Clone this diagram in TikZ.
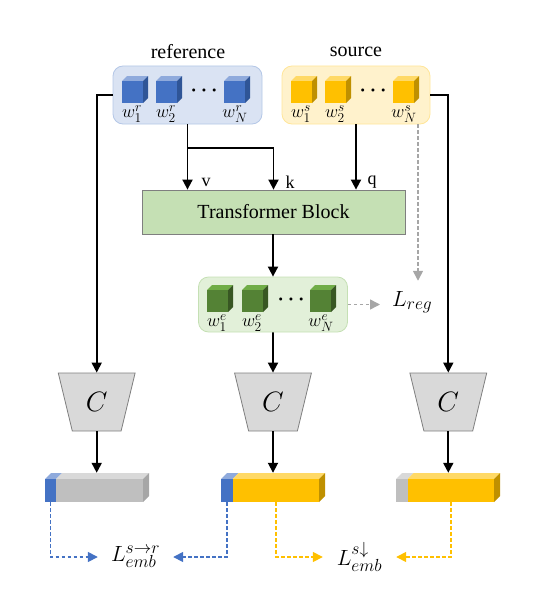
\RequirePackage{fix-cm}
\documentclass[tikz,border=0pt]{standalone}
\usepackage{fontspec}
\setmainfont{Liberation Serif}
\usetikzlibrary{arrows.meta,shapes.geometric,calc}
\DeclareMathSizes{22}{22}{17.5}{13}
\DeclareMathSizes{18}{18}{13.5}{10}
\definecolor{refbg}{HTML}{DAE3F3}
\definecolor{refbd}{HTML}{B4C7E7}
\definecolor{srcbg}{HTML}{FFF2CC}
\definecolor{srcbd}{HTML}{FFE699}
\definecolor{grnbg}{HTML}{E2F0D9}
\definecolor{grnbd}{HTML}{C5E0B4}
\definecolor{tbfill}{HTML}{C5E0B4}
\definecolor{tbbd}{HTML}{7F7F7F}
\definecolor{cfill}{HTML}{D9D9D9}
\definecolor{cbd}{HTML}{7F7F7F}
\definecolor{bluF}{HTML}{4472C4}
\definecolor{bluT}{HTML}{8FAADC}
\definecolor{bluS}{HTML}{2F5597}
\definecolor{yelF}{HTML}{FFC000}
\definecolor{yelT}{HTML}{FFD966}
\definecolor{yelS}{HTML}{BF9000}
\definecolor{grnF}{HTML}{548235}
\definecolor{grnT}{HTML}{70AD47}
\definecolor{grnS}{HTML}{385723}
\definecolor{gryF}{HTML}{BFBFBF}
\definecolor{gryT}{HTML}{D9D9D9}
\definecolor{gryS}{HTML}{A6A6A6}
\definecolor{dgray}{HTML}{A6A6A6}
% cube: #1 x, #2 y (top-left of front face), #3 front, #4 top, #5 side
\newcommand{\drawcube}[5]{%
  \fill[#4] (#1,#2) -- ++(5,-5) -- ++(21,0) -- ++(-5,5) -- cycle;
  \fill[#5] (#1+21,#2) -- ++(5,-5) -- ++(0,22) -- ++(-5,5) -- cycle;
  \fill[#3] (#1,#2) rectangle ++(21,22);
}
% bar: #1 x0, #2 xsplit, #3 x1, #4 front left, #5 top left, #6 front right, #7 top right, #8 side
\newcommand{\drawbar}[8]{%
  \fill[#5] (#1,479) -- (#1+6,473) -- (#2+6,473) -- (#2,479) -- cycle;
  \fill[#7] (#2,479) -- (#2+6,473) -- (#3+6,473) -- (#3,479) -- cycle;
  \fill[#8] (#3,479) -- (#3+6,473) -- (#3+6,496) -- (#3,502) -- cycle;
  \fill[#4] (#1,479) rectangle (#2,502);
  \fill[#6] (#2,479) rectangle (#3,502);
}
\begin{document}
\begin{tikzpicture}[x=1pt,y=-1pt,
  arr/.style={line width=1.8pt,-{Triangle[length=10pt,width=10pt]}},
  dasharr/.style={line width=1.5pt,dash pattern=on 3.5pt off 2.5pt,-{Triangle[length=10pt,width=10pt]}},
  panel/.style={rounded corners=10pt,line width=0.8pt,inner sep=0pt,minimum height=58pt},
  ttl/.style={font=\fontsize{20}{24}\selectfont,inner sep=0pt},
  wlab/.style={font=\fontsize{18}{20}\selectfont,inner sep=0pt},
  dotlab/.style={font=\fontsize{20}{22}\selectfont\boldmath,inner sep=0pt},
  kvq/.style={font=\fontsize{18}{20}\selectfont,inner sep=0pt},
  cls/.style={trapezium,trapezium stretches=true,shape border rotate=180,
    trapezium left angle=72,trapezium right angle=72,minimum width=77pt,
    minimum height=58pt,fill=cfill,draw=cbd,line width=0.8pt,inner sep=0pt,
    font=\fontsize{28}{30}\selectfont},
  losslab/.style={font=\fontsize{22}{26}\selectfont,inner sep=0pt},
  barbox/.style={inner sep=0pt,minimum width=104pt,minimum height=29pt}
]
\useasboundingbox (0,0) rectangle (539,610);

% titles
\node[ttl] (reflab) at (188,52) {reference};
\node[ttl] (srclab) at (356,52) {source};

% panels
\node[panel,fill=refbg,draw=refbd,minimum width=149pt] (refbox) at (187.5,95) {};
\node[panel,fill=srcbg,draw=srcbd,minimum width=148pt] (srcbox) at (356,95) {};
\node[panel,fill=grnbg,draw=grnbd,minimum width=149pt,minimum height=55pt] (gbox) at (273,304.5) {};

% cubes reference
\drawcube{122}{81}{bluF}{bluT}{bluS}
\drawcube{156}{81}{bluF}{bluT}{bluS}
\drawcube{224}{81}{bluF}{bluT}{bluS}
\node[dotlab] (rdots) at (204,91) {$\cdots$};
\node[wlab] (wr1) at (132,114) {$w_1^r$};
\node[wlab] (wr2) at (166,114) {$w_2^r$};
\node[wlab] (wrN) at (235,114) {$w_N^r$};
% cubes source
\drawcube{291}{81}{yelF}{yelT}{yelS}
\drawcube{325}{81}{yelF}{yelT}{yelS}
\drawcube{393}{81}{yelF}{yelT}{yelS}
\node[dotlab] (sdots) at (373,91) {$\cdots$};
\node[wlab] (ws1) at (301,114) {$w_1^s$};
\node[wlab] (ws2) at (335,114) {$w_2^s$};
\node[wlab] (wsN) at (404,114) {$w_N^s$};
% cubes embedding
\drawcube{207}{290}{grnF}{grnT}{grnS}
\drawcube{242}{290}{grnF}{grnT}{grnS}
\drawcube{310}{290}{grnF}{grnT}{grnS}
\node[dotlab] (edots) at (291,300) {$\cdots$};
\node[wlab] (we1) at (217,323) {$w_1^e$};
\node[wlab] (we2) at (252,323) {$w_2^e$};
\node[wlab] (weN) at (321,323) {$w_N^e$};

% transformer
\node[fill=tbfill,draw=tbbd,line width=0.8pt,minimum width=263pt,minimum height=44pt,inner sep=0pt,
  font=\fontsize{20}{24}\selectfont] (tb) at (273.5,212) {Transformer Block};

% classifiers
\node[cls] (c1) at (96.7,402) {$C$};
\node[cls] (c2) at (273,402) {$C$};
\node[cls] (c3) at (448.3,402) {$C$};

% bars
\drawbar{45}{56}{143}{bluF}{bluT}{gryF}{gryT}{gryS}
\drawbar{221}{232.7}{319}{bluF}{bluT}{yelF}{yelT}{yelS}
\drawbar{396}{407.7}{494}{gryF}{gryT}{yelF}{yelT}{yelS}
\node[barbox] (bar1) at (97,487.5) {};
\node[barbox] (bar2) at (273,487.5) {};
\node[barbox] (bar3) at (448,487.5) {};

% losses
\node[losslab,anchor=base west,inner xsep=12pt,inner ysep=10pt] (Lreg) at (380,306) {$L_{reg}$};
\node[losslab,minimum width=75pt] (Lemb1) at (135.5,557) {$L_{emb}^{s\to r}$};
\node[losslab,minimum width=73pt] (Lemb2) at (359.5,557) {$L_{emb}^{s\downarrow}$};

% k v q labels
\node[kvq] (vlab) at (206,182) {v};
\node[kvq] (klab) at (290,182) {k};
\node[kvq] (qlab) at (372,182) {q};

% connectors
\coordinate (branch) at (187.5,148);
\draw[arr] (refbox.west) -| (c1.north);
\draw[arr] (srcbox.east) -| (c3.north);
\draw[arr] (refbox.south) -- (refbox.south |- tb.north);
\draw[arr] (branch) -| (tb.north);
\draw[arr] (srcbox.south) -- (srcbox.south |- tb.north);
\draw[arr] (tb.south -| gbox.north) -- (gbox.north);
\draw[arr] (gbox.south) -- (c2.north);
\draw[arr] (c1.south) -- (c1.south |- bar1.north);
\draw[arr] (c2.south) -- (c2.south |- bar2.north);
\draw[arr] (c3.south) -- (c3.south |- bar3.north);

\coordinate (regx) at (418,0);
\draw[dasharr,color=dgray] (gbox.east) -- (gbox.east -| Lreg.west);
\draw[dasharr,color=dgray] (srcbox.south -| regx) -- (Lreg.north -| regx);

\draw[dasharr,color=bluF] ($(bar1.south west)+(5.5,0)$) |- (Lemb1.west);
\draw[dasharr,color=bluF] ($(bar2.south west)+(6,0)$) |- (Lemb1.east);
\draw[dasharr,color=yelF] ($(bar2.south west)+(55,0)$) |- (Lemb2.west);
\draw[dasharr,color=yelF] ($(bar3.south west)+(55,0)$) |- (Lemb2.east);
\end{tikzpicture}
\end{document}
